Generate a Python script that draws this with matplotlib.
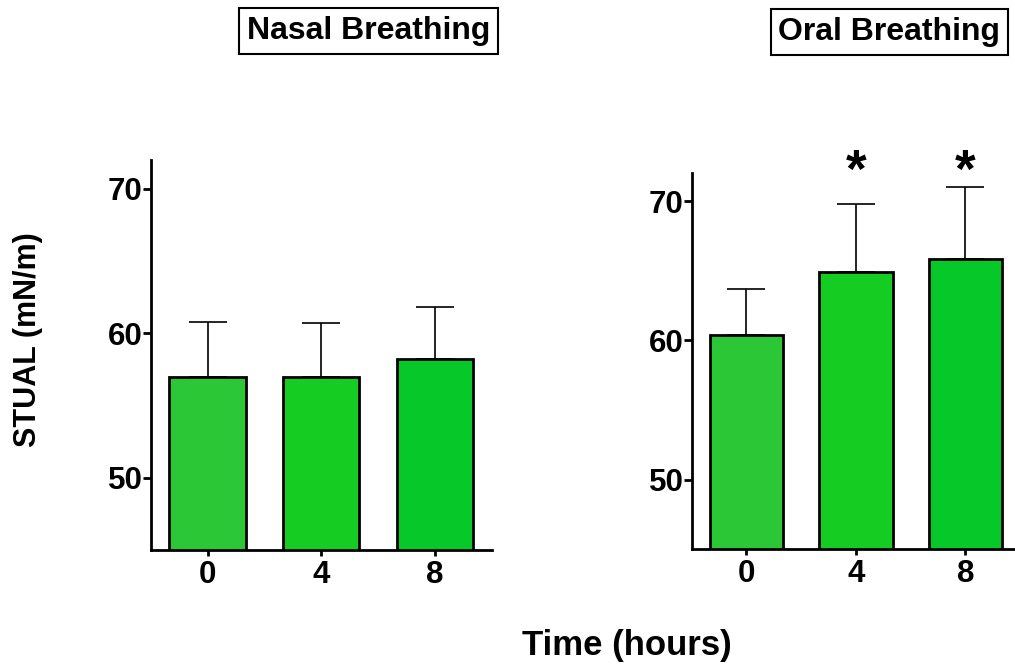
import matplotlib
matplotlib.use("Agg")
import matplotlib.pyplot as plt

plt.rcParams['font.family'] = ['Liberation Sans', 'DejaVu Sans']
plt.rcParams['font.weight'] = 'bold'

categories = ["0", "4", "8"]
nasal_mean = [57.0, 56.95, 58.2]
nasal_sd = [3.8, 3.75, 3.65]
oral_mean = [60.4, 64.95, 65.85]
oral_sd = [3.3, 4.85, 5.15]
oral_sig = ["", "*", "*"]
sig_level = 70.2
bar_colors = ["#2BC737", "#14CC22", "#06C929"]
yticks = [50, 60, 70]

fig = plt.figure(figsize=(10.15, 6.69), dpi=100)
ax1 = fig.add_axes([0.1485, 0.1779, 0.336, 0.583])
ax2 = fig.add_axes([0.6815, 0.1789, 0.3236, 0.562])

def draw(ax, means, sds):
    x = range(len(categories))
    ax.errorbar(x, means, yerr=[[0] * len(sds), sds], fmt='none', ecolor='black',
                elinewidth=1.2, capsize=14, capthick=1.2, zorder=1)
    ax.bar(x, means, width=0.67, color=bar_colors, edgecolor='black', linewidth=2.0,
           zorder=2)
    ax.set_xlim(-0.5, 2.5)
    ax.set_ylim(45, 72)
    ax.set_yticks(yticks)
    ax.set_xticks(list(x))
    ax.set_xticklabels(categories)
    for s in ['top', 'right']:
        ax.spines[s].set_visible(False)
    for s in ['left', 'bottom']:
        ax.spines[s].set_linewidth(2.0)
    ax.tick_params(axis='y', width=2.0, length=5.5, labelsize=22.5, pad=0.5)
    ax.tick_params(axis='x', width=2.0, length=4, labelsize=22.5, pad=3)
    for lab in ax.get_xticklabels() + ax.get_yticklabels():
        lab.set_fontweight('bold')

draw(ax1, nasal_mean, nasal_sd)
draw(ax2, oral_mean, oral_sd)
ax2.spines['bottom'].set_bounds(-0.5, 2.6)

for i, s in enumerate(oral_sig):
    if s:
        ax2.text(i, sig_level, s, ha='center', va='bottom',
                 fontsize=38, fontweight='bold', clip_on=False)

box = dict(boxstyle='square,pad=0.25', facecolor='white', edgecolor='black', linewidth=1.5)
fig.text(368.7 / 1015, 1 - 31 / 669, "Nasal Breathing", ha='center', va='center',
         fontsize=23, fontweight='bold', bbox=box)
fig.text(889.5 / 1015, 1 - 32 / 669, "Oral Breathing", ha='center', va='center',
         fontsize=23, fontweight='bold', bbox=box)

fig.text(28 / 1015, 1 - 340 / 669, "STUAL (mN/m)", rotation=90, ha='center', va='center',
         fontsize=22, fontweight='bold')
fig.text(627 / 1015, 1 - 646 / 669, "Time (hours)", ha='center', va='center',
         fontsize=25, fontweight='bold')

fig.savefig("out.png", dpi=100)
